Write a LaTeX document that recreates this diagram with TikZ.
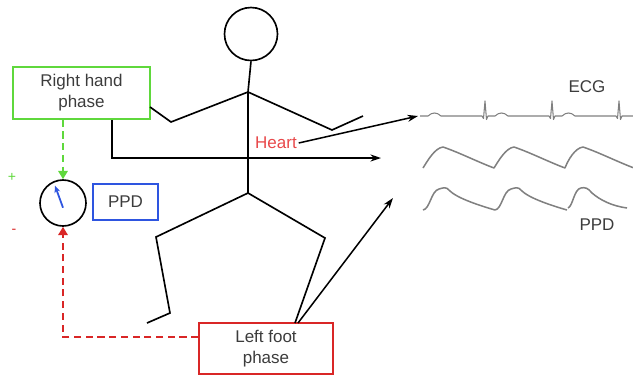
\documentclass[tikz,border=0pt]{standalone}
\usepackage{fontspec}
\setmainfont{Liberation Sans}
\usepackage{xcolor}
\usepackage{tikz}
\usetikzlibrary{arrows.meta, positioning, calc}

\definecolor{boxgreen}{HTML}{5FD83C}
\definecolor{boxblue}{HTML}{2E55E0}
\definecolor{boxred}{HTML}{D92626}
\definecolor{heartred}{HTML}{E8484A}
\definecolor{labelgray}{HTML}{3C3C3C}
\definecolor{tracegray}{HTML}{808080}

\begin{document}
\begin{tikzpicture}[x=0.03cm, y=-0.03cm, >=Stealth, line width=1.3pt]

% --- Style Definitions ---
\tikzstyle{phase_box}=[rectangle, draw, line width=1.3pt, align=center, text=labelgray, font=\fontsize{14.5}{18}\selectfont]
\tikzstyle{limb}=[black, line width=1.4pt, line join=miter]
\tikzstyle{sig_arrow}=[->, black, line width=1.3pt, >={Stealth[length=9pt, width=6pt]}]
\tikzstyle{fb_green}=[->, boxgreen, dashed, dash pattern=on 6pt off 4pt, line width=1.5pt, >={Triangle[length=7pt, width=8pt]}]
\tikzstyle{fb_red}=[->, boxred, dashed, dash pattern=on 6pt off 4pt, line width=1.5pt, >={Triangle[length=7pt, width=8pt]}]
\tikzstyle{trace}=[tracegray, line width=1.3pt, line join=round]
\tikzstyle{trace_label}=[text=labelgray, font=\fontsize{14.5}{18}\selectfont]

\useasboundingbox (0,0) rectangle (633,379);

% --- Boxes and gauge ---
\node[phase_box, draw=boxgreen, minimum width=4.11cm, minimum height=1.56cm] (RH) at (81.5,93) {Right hand\\phase};
\node[phase_box, draw=boxred, minimum width=4.02cm, minimum height=1.53cm] (LF) at (266,348.5) {Left foot\\phase};
\node[phase_box, draw=boxblue, minimum width=1.95cm, minimum height=1.08cm] (PPD_box) at (125.5,202) {PPD};
\node[circle, draw, line width=1.4pt, minimum size=1.38cm] (gauge) at (63,203) {};
\draw[->, boxblue, line width=1.5pt, >={Stealth[length=6pt, width=5pt]}] ([yshift=-4]gauge.center) -- ++(-8,-22);
\node[boxgreen, font=\large] (plus) at (12,177) {+};
\node[boxred, font=\large] (minus) at (14,231) {-};

% --- Stick figure ---
\node[circle, draw, line width=1.4pt, minimum size=1.59cm] (head) at (251,34) {};
\coordinate (shoulder) at (248,92);
\coordinate (hip) at (248,193);
\coordinate (l_elbow) at (171,122);
\coordinate (l_hand) at (150,107);
\coordinate (r_elbow) at (332,130);
\coordinate (r_hand) at (363,116);
\coordinate (l_knee) at (156,237);
\coordinate (l_ankle) at (170,313);
\coordinate (l_toe) at (147,323);
\coordinate (r_knee) at (325,238);
\coordinate (r_foot) at (295,323);

\draw[limb] (head.south) -- (shoulder) -- (hip);
\draw[limb] (l_hand) -- (l_elbow) -- (shoulder) -- (r_elbow) -- (r_hand);
\draw[limb] (l_toe) -- (l_ankle) -- (l_knee) -- (hip) -- (r_knee) -- (r_foot);

% --- Heart label ---
\node[text=heartred, font=\fontsize{14.5}{18}\selectfont, inner sep=1pt] (heart) at (276,143) {Heart};

% --- Signal end points ---
\coordinate (ecg_in) at (418,116);
\coordinate (ppg_in) at (381,158);
\coordinate (ppd_in) at (393,198);
\coordinate (lf_out) at (298,323);

% --- Signal arrows ---
\draw[sig_arrow] (heart.east) -- (ecg_in);
\draw[sig_arrow] ([xshift=3cm]RH.south west) |- (ppg_in);
\draw[sig_arrow] (lf_out) -- (ppd_in);

% --- Feedback to the gauge ---
\draw[fb_green] (gauge.north |- RH.south) -- (gauge.north);
\draw[fb_red] ($(LF.north west)!0.28!(LF.south west)$) -| (gauge.south);

% --- Traces ---
\begin{scope}
\clip (415,60) rectangle (633,240);
% ECG
\draw[trace, line width=0.9pt] (420,116)
  \foreach \o in {0,67,134} {
    -- (428+\o,116) .. controls (432+\o,112) and (437+\o,112) .. (441+\o,116)
    -- (482+\o,116) -- (483.5+\o,118.5) -- (485+\o,101) -- (486.5+\o,119.5) -- (488+\o,116)
  } -- (633,116);
% pulse wave
\draw[trace] (423,168)
  \foreach \o in {0,71,140} {
    .. controls (428+\o,160) and (435+\o,148) .. (443+\o,147)
    .. controls (458+\o,152) and (478+\o,162) .. (494+\o,168)
  };
% PPD wave
\draw[trace] (423,210)
  \foreach \o in {0,72} {
    .. controls (430+\o,209) and (431+\o,191) .. (439+\o,189)
    .. controls (443+\o,188) and (446+\o,186) .. (450+\o,191)
    .. controls (456+\o,197) and (474+\o,204) .. (495+\o,210)
  };
\draw[trace] (568,208) .. controls (573,206) and (574,189) .. (581,188)
  .. controls (585,187) and (588,188) .. (592,193)
  .. controls (600,200) and (612,206) .. (627,208);
\end{scope}

\node[trace_label] (ecg_label) at (587,87) {ECG};
\node[trace_label] (ppd_label) at (597,225) {PPD};

\end{tikzpicture}
\end{document}
